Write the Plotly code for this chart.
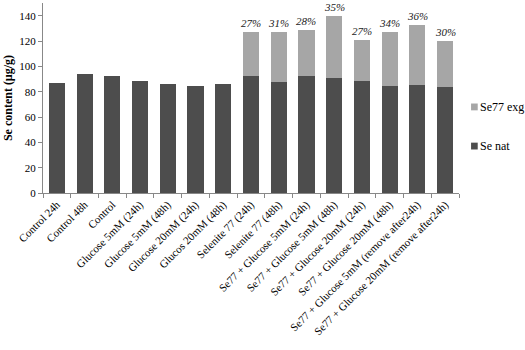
import plotly.graph_objects as go

categories = ["Control 24h", "Control 48h", "Control", "Glucose 5mM (24h)", "Glucose 5mM (48h)",
              "Glucose 20mM (24h)", "Glucos 20mM (48h)", "Selenite 77 (24h)", "Selenite 77 (48h)",
              "Se77 + Glucose 5mM (24h)", "Se77 + Glucose 5mM (48h)", "Se77 + Glucose 20mM (24h)",
              "Se77 + Glucose 20mM (48h)", "Se77 + Glucose 5mM (remove after24h)",
              "Se77 + Glucose 20mM (remove after24h)"]
se_nat = [86.5, 94.3, 92.2, 88.3, 86.0, 84.6, 86.0, 92.2, 87.6, 92.2, 90.6, 88.3, 84.1, 85.3, 83.3]
se77_exg = [0, 0, 0, 0, 0, 0, 0, 35.2, 39.8, 36.8, 49.4, 32.2, 43.3, 47.6, 36.4]
pct_labels = ["", "", "", "", "", "", "", "27%", "31%", "28%", "35%", "27%", "34%", "36%", "30%"]

serif = "Liberation Serif"
dark, light = "#4d4d4d", "#a6a6a6"

fig = go.Figure()
fig.add_trace(go.Bar(x=categories, y=se_nat, name="Se nat", marker_color=dark,
                     marker_line_width=0, showlegend=False))
fig.add_trace(go.Bar(x=categories, y=se77_exg, name="Se77 exg", marker_color=light,
                     marker_line_width=0, showlegend=False))

for c, n, e, t in zip(categories, se_nat, se77_exg, pct_labels):
    if t:
        fig.add_annotation(x=c, y=n + e, text=f"<i>{t}</i>", showarrow=False,
                           yanchor="bottom", yshift=1,
                           font=dict(family=serif, size=11, color="#222"))

# legend: small squares + labels, like the original
for name, col, ypos in [("Se77 exg", light, 0.453), ("Se nat", dark, 0.247)]:
    fig.add_shape(type="rect", xref="paper", yref="paper", x0=1.029, x1=1.045,
                  y0=ypos - 0.018, y1=ypos + 0.018, fillcolor=col, line_width=0)
    fig.add_annotation(xref="paper", yref="paper", x=1.046, y=ypos, xanchor="left",
                       yanchor="middle", showarrow=False, text=name,
                       font=dict(family=serif, size=12, color="#000"))

fig.update_layout(
    width=525, height=350,
    barmode="stack", bargap=0.42,
    plot_bgcolor="white", paper_bgcolor="white",
    margin=dict(l=43, r=66, t=3, b=157),
    font=dict(family=serif, size=11, color="#000"),
    yaxis=dict(range=[0, 150], tickvals=list(range(0, 141, 20)), showline=True,
               linecolor="#888", linewidth=1, ticks="outside", ticklen=4, tickcolor="#888",
               showgrid=False, zeroline=False,
               title=dict(text="<b>Se content (µg/g)</b>", font=dict(family=serif, size=12),
                          standoff=4),
               tickfont=dict(family=serif, size=11)),
    xaxis=dict(showline=True, linecolor="#888", linewidth=1, ticks="outside", ticklen=4,
               tickcolor="#888", tickson="boundaries", tickangle=-45,
               tickfont=dict(family=serif, size=11), showgrid=False),
)

# drop the page's default 8px body margin so the figure fills the window
fig.write_html("out.html", config={"displayModeBar": False},
               post_script="document.body.style.margin='0px';")
